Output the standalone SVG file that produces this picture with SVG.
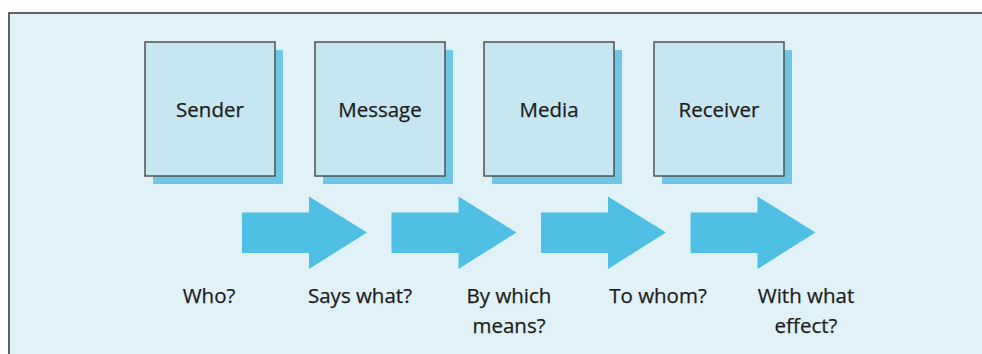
<svg xmlns="http://www.w3.org/2000/svg" width="982" height="354" viewBox="0 0 982 354">
  <style>
    .frame { fill: #e0f1f7; stroke: #3d3d3d; stroke-width: 1.6; }
    .shadow { fill: #6fc7e6; }
    .box { fill: #c6e6f1; stroke: #505050; stroke-width: 1.5; }
    .arrow { fill: #4fc0e3; }
    text { font-family: "Open Sans", "Noto Sans", "Liberation Sans", sans-serif; font-size: 20.5px; fill: #1c1c1c; text-anchor: middle; stroke: #1c1c1c; stroke-width: 0.25; }
  </style>
  <defs>
    <path id="flow-arrow" d="M0 20.5 H67 V4.5 L125 40.5 L67 77 V61 H0 Z"/>
  </defs>

  <!-- panel -->
  <rect class="frame" x="9" y="13" width="985" height="360"/>

  <!-- nodes -->
  <g id="sender">
    <rect class="shadow" x="153" y="50" width="130" height="134"/>
    <rect class="box" x="145" y="42" width="130" height="134"/>
    <text x="210" y="117">Sender</text>
  </g>
  <g id="message">
    <rect class="shadow" x="323" y="50" width="130" height="134"/>
    <rect class="box" x="315" y="42" width="130" height="134"/>
    <text x="380" y="117">Message</text>
  </g>
  <g id="media">
    <rect class="shadow" x="492" y="50" width="130" height="134"/>
    <rect class="box" x="484" y="42" width="130" height="134"/>
    <text x="549" y="117">Media</text>
  </g>
  <g id="receiver">
    <rect class="shadow" x="662" y="50" width="130" height="134"/>
    <rect class="box" x="654" y="42" width="130" height="134"/>
    <text x="719" y="117">Receiver</text>
  </g>

  <!-- connectors -->
  <g id="connectors">
    <use class="arrow" href="#flow-arrow" x="242" y="192"/>
    <use class="arrow" href="#flow-arrow" x="391.5" y="192"/>
    <use class="arrow" href="#flow-arrow" x="541" y="192"/>
    <use class="arrow" href="#flow-arrow" x="690.5" y="192"/>
  </g>

  <!-- questions -->
  <g id="questions">
    <text x="209" y="303">Who?</text>
    <text x="360" y="303">Says what?</text>
    <text x="509" y="303">By which</text>
    <text x="509" y="333">means?</text>
    <text x="658" y="303">To whom?</text>
    <text x="806" y="303">With what</text>
    <text x="806" y="333">effect?</text>
  </g>
</svg>
